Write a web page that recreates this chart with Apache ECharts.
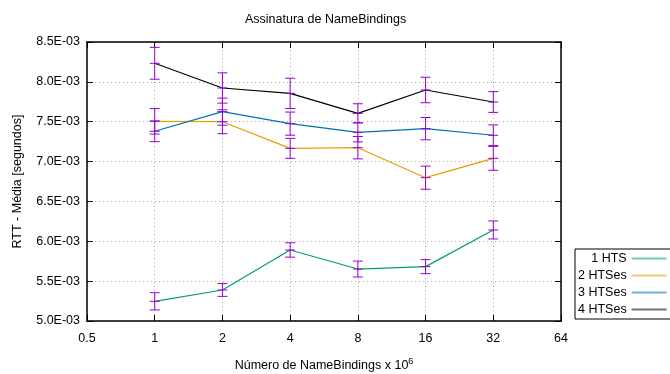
<!DOCTYPE html>
<html>
<head>
<meta charset="utf-8">
<script src="https://cdn.jsdelivr.net/npm/echarts@6/dist/echarts.min.js"></script>
<style>
  html, body { margin: 0; padding: 0; background: #fff; }
  #chart { width: 670px; height: 374px; }
</style>
</head>
<body>
<div id="chart"></div>
<script>
// ==========================================================================
// DONNEES

var xValues = [1, 2, 4, 8, 16, 32];
var seriesNames = ['1 HTS', '2 HTSes', '3 HTSes', '4 HTSes'];
var seriesColors = ['#009e73', '#e69f00', '#0072b2', '#000000'];

var hts1 = [5.247e-3, 5.389e-3, 5.891e-3, 5.652e-3, 5.682e-3, 6.142e-3];
var hts1Err = [0.108e-3, 0.080e-3, 0.090e-3, 0.100e-3, 0.088e-3, 0.113e-3];

var hts2 = [7.505e-3, 7.500e-3, 7.166e-3, 7.174e-3, 6.798e-3, 7.041e-3];
var hts2Err = [0.160e-3, 0.150e-3, 0.125e-3, 0.140e-3, 0.145e-3, 0.150e-3];

var hts3 = [7.380e-3, 7.626e-3, 7.476e-3, 7.367e-3, 7.413e-3, 7.330e-3];
var hts3Err = [0.130e-3, 0.170e-3, 0.145e-3, 0.120e-3, 0.140e-3, 0.130e-3];

var hts4 = [8.233e-3, 7.923e-3, 7.856e-3, 7.605e-3, 7.898e-3, 7.747e-3];
var hts4Err = [0.200e-3, 0.190e-3, 0.190e-3, 0.120e-3, 0.160e-3, 0.130e-3];

var allMeans = [hts1, hts2, hts3, hts4];
var allErrs = [hts1Err, hts2Err, hts3Err, hts4Err];

var fontFamily = '"Liberation Sans", Arial, sans-serif';
var errColor = '#9400d3';

// formatter 8.5E-03
function expLabel(v) {
  var parts = v.toExponential(1).split('e');
  var exp = parseInt(parts[1], 10);
  var sign = exp < 0 ? '-' : '+';
  var abs = Math.abs(exp);
  return parts[0] + 'E' + sign + (abs < 10 ? '0' + abs : abs);
}

// barres d'erreur (custom)
function renderErr(params, api) {
  var x = api.value(0);
  var lo = api.coord([x, api.value(1)]);
  var hi = api.coord([x, api.value(2)]);
  var mid = api.coord([x, api.value(3)]);
  var w = 5;
  var st = { stroke: errColor, lineWidth: 1 };
  return {
    type: 'group',
    children: [
      { type: 'line', shape: { x1: lo[0], y1: lo[1], x2: hi[0], y2: hi[1] }, style: st },
      { type: 'line', shape: { x1: lo[0] - w, y1: lo[1], x2: lo[0] + w, y2: lo[1] }, style: st },
      { type: 'line', shape: { x1: hi[0] - w, y1: hi[1], x2: hi[0] + w, y2: hi[1] }, style: st },
      { type: 'line', shape: { x1: mid[0] - w, y1: mid[1], x2: mid[0] + w, y2: mid[1] }, style: st }
    ]
  };
}

var series = [];
allMeans.forEach(function (means, i) {
  series.push({
    name: seriesNames[i],
    type: 'line',
    symbol: 'none',
    data: xValues.map(function (x, j) { return [x, means[j]]; }),
    color: seriesColors[i],
    lineStyle: { width: 1.2, color: seriesColors[i] },
    z: 2
  });
});
allMeans.forEach(function (means, i) {
  series.push({
    type: 'custom',
    renderItem: renderErr,
    data: xValues.map(function (x, j) {
      return [x, means[j] - allErrs[i][j], means[j] + allErrs[i][j], means[j]];
    }),
    z: 3,
    silent: true
  });
});

var logAxisBase = {
  type: 'log',
  logBase: 2,
  min: 0.5,
  max: 64,
  splitNumber: 7
};

var chart = echarts.init(document.getElementById('chart'), null, {renderer: 'canvas'});
var option = {
  animation: false,
  textStyle: { fontFamily: fontFamily },
  title: {
    text: 'Assinatura de NameBindings',
    left: 240,
    top: 8,
    textStyle: { fontFamily: fontFamily, fontSize: 12.5, fontWeight: 'normal', color: '#000' }
  },
  grid: { left: 87, right: 109, top: 42, bottom: 53, containLabel: false, outerBoundsMode: 'none' },
  legend: {
    orient: 'vertical',
    left: 575,
    top: 249,
    align: 'right',
    itemWidth: 35,
    itemHeight: 14,
    itemGap: 4,
    padding: [3, 20, 3, 3],
    borderColor: '#000',
    borderWidth: 1,
    data: seriesNames,
    itemStyle: { color: 'transparent', borderColor: 'transparent', borderWidth: 0 },
    lineStyle: { width: 2, opacity: 0.55 },
    textStyle: { fontFamily: fontFamily, fontSize: 12.5, color: '#000' }
  },
  xAxis: [
    Object.assign({}, logAxisBase, {
      position: 'bottom',
      name: 'Número de NameBindings x 10{sup|6}',
      nameLocation: 'middle',
      nameGap: 36,
      nameTextStyle: {
        fontFamily: fontFamily, fontSize: 12.5, color: '#000',
        rich: { sup: { fontSize: 9, verticalAlign: 'top', padding: [0, 0, 8, 0], fontFamily: fontFamily, color: '#000' } }
      },
      axisLine: { lineStyle: { color: '#000', width: 1.5 } },
      axisTick: { inside: true, length: 6, lineStyle: { color: '#000' } },
      axisLabel: {
        margin: 11,
        color: '#000',
        fontSize: 12.5,
        fontFamily: fontFamily,
        formatter: function (v) { return String(+(+v).toPrecision(6)); }
      },
      splitLine: { show: true, lineStyle: { color: '#aaa', type: [1, 3], width: 1 } }
    }),
    Object.assign({}, logAxisBase, {
      position: 'top',
      axisLine: { lineStyle: { color: '#000', width: 1.5 } },
      axisTick: { inside: true, length: 6, lineStyle: { color: '#000' } },
      axisLabel: { show: false },
      splitLine: { show: false }
    })
  ],
  yAxis: [
    {
      type: 'value',
      min: 0.005,
      max: 0.0085,
      interval: 0.0005,
      position: 'left',
      name: 'RTT - Média [segundos]',
      nameLocation: 'middle',
      nameRotate: 90,
      nameGap: 63,
      nameTextStyle: { fontFamily: fontFamily, fontSize: 12.5, color: '#000' },
      axisLine: { show: true, lineStyle: { color: '#000', width: 1.5 } },
      axisTick: { show: true, inside: true, length: 6, lineStyle: { color: '#000' } },
      axisLabel: { margin: 7, color: '#000', fontSize: 12.5, fontFamily: fontFamily, formatter: expLabel },
      splitLine: { show: true, lineStyle: { color: '#aaa', type: [1, 3], width: 1 } }
    },
    {
      type: 'value',
      min: 0.005,
      max: 0.0085,
      interval: 0.0005,
      position: 'right',
      axisLine: { show: true, lineStyle: { color: '#000', width: 1.5 } },
      axisTick: { show: true, inside: true, length: 6, lineStyle: { color: '#000' } },
      axisLabel: { show: false },
      splitLine: { show: false }
    }
  ],
  series: series
};
chart.setOption(option);
</script>
</body>
</html>
